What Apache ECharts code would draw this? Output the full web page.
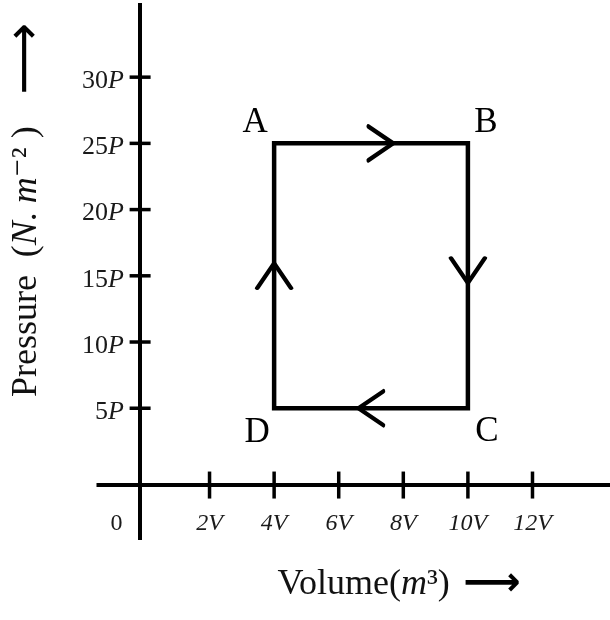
<!DOCTYPE html>
<html>
<head>
<meta charset="utf-8">
<script src="https://cdn.jsdelivr.net/npm/echarts@6/dist/echarts.min.js"></script>
<style>
html,body{margin:0;padding:0;background:#fff;}
#chart{width:610px;height:620px;}
</style>
</head>
<body>
<div id="chart"></div>
<script>
// ---- data ----
const vertexNames = ['A', 'B', 'C', 'D'];
const volume = [4, 10, 10, 4];          // in units of V
const pressure = [25, 25, 5, 5];        // in units of P
const cycleOrder = [0, 1, 2, 3, 0];     // A -> B -> C -> D -> A
const xTickValues = [2, 4, 6, 8, 10, 12];
const yTickValues = [5, 10, 15, 20, 25, 30];
const arrowVolume = [7.3, 10, 7, 4];
const arrowPressure = [25, 15.4, 5, 15];
const arrowAngle = [0, -90, 180, 90];
const xAxisLineAt = -0.8;   // pressure value where the drawn V axis sits
const yAxisLineAt = -0.15;  // volume value where the drawn P axis sits

const labelOffsets = [[-19, -21], [18, -21], [19, 24], [-17, 25]];
const SERIF = '"Liberation Serif", "DejaVu Serif", serif';

const cycleData = cycleOrder.map(i => [volume[i], pressure[i]]);
const vertexData = vertexNames.map((n, i) => ({
  value: [volume[i], pressure[i]],
  name: n,
  label: { offset: labelOffsets[i] }
}));
const arrowData = arrowVolume.map((v, i) => ({
  value: [v, arrowPressure[i]],
  symbolRotate: arrowAngle[i]
}));
const xTickData = xTickValues.map(v => [v, xAxisLineAt]);
const yTickData = yTickValues.map(p => [yAxisLineAt, p]);

const chart = echarts.init(document.getElementById('chart'), null, { renderer: 'canvas' });
chart.setOption({
  animation: false,
  backgroundColor: '#ffffff',
  grid: { left: 96.5, right: 0, top: 3, bottom: 80, containLabel: false, outerBoundsMode: 'none' },
  xAxis: {
    type: 'value', min: -1.5, max: 14.4,
    offset: -65.4,
    axisLine: { show: false, onZero: false },
    axisTick: { show: false },
    splitLine: { show: false },
    axisLabel: {
      customValues: [0].concat(xTickValues),
      margin: 37,
      formatter: v => v === 0 ? '{z|0}' : '{v|' + v + 'V}',
      rich: {
        v: { fontFamily: SERIF, fontStyle: 'italic', fontSize: 24, color: '#1a1a1a' },
        z: { fontFamily: SERIF, fontSize: 24, color: '#1a1a1a', padding: [0, 57, 0, 0] }
      }
    },
    name: '{t|Volume(}{i|m}{t|³)}{a| ⟶}',
    nameLocation: 'middle',
    nameGap: 90,
    nameMoveOverlap: false,
    nameTextStyle: {
      padding: [0, 0, 0, 92],
      rich: {
        t: { fontFamily: SERIF, fontSize: 36, color: '#111' },
        i: { fontFamily: SERIF, fontStyle: 'italic', fontSize: 36, color: '#111' },
        a: { fontFamily: '"DejaVu Sans", sans-serif', fontWeight: 'bold', fontSize: 40, color: '#000' }
      }
    }
  },
  yAxis: {
    type: 'value', min: -4.95, max: 35.6,
    offset: -48.5,
    axisLine: { show: false, onZero: false },
    axisTick: { show: false },
    splitLine: { show: false },
    axisLabel: {
      customValues: yTickValues,
      margin: 21,
      padding: [8, 0, 0, 0],
      formatter: v => '{n|' + v + '}{p|P}',
      rich: {
        n: { fontFamily: SERIF, fontSize: 26, color: '#1a1a1a' },
        p: { fontFamily: SERIF, fontStyle: 'italic', fontSize: 26, color: '#1a1a1a' }
      }
    },
    name: '{t|Pressure  (}{i|N}{t|. }{i|m}{t|⁻² )}{a|  ⟶}',
    nameLocation: 'middle',
    nameRotate: 90,
    nameGap: 93,
    nameMoveOverlap: false,
    nameTextStyle: {
      padding: [0, 0, 0, 123],
      rich: {
        t: { fontFamily: SERIF, fontSize: 36, color: '#111' },
        i: { fontFamily: SERIF, fontStyle: 'italic', fontSize: 36, color: '#111' },
        a: { fontFamily: '"DejaVu Sans", sans-serif', fontSize: 50, color: '#000' }
      }
    }
  },
  series: [
    {
      type: 'scatter', name: 'ticks-x', silent: true,
      symbol: 'rect', symbolSize: [3.5, 27],
      itemStyle: { color: '#000', opacity: 1 },
      data: xTickData,
      markLine: {
        silent: true, symbol: 'none', label: { show: false },
        lineStyle: { color: '#000', width: 4, type: 'solid', opacity: 1 },
        data: [{ yAxis: xAxisLineAt }, { xAxis: yAxisLineAt }]
      },
      z: 3
    },
    {
      type: 'scatter', name: 'ticks-y', silent: true,
      symbol: 'rect', symbolSize: [21, 3.5],
      itemStyle: { color: '#000', opacity: 1 },
      data: yTickData, z: 3
    },
    {
      type: 'line', name: 'cycle', silent: true,
      data: cycleData,
      showSymbol: false, symbol: 'none',
      lineStyle: { color: '#000', width: 4.5, join: 'miter', cap: 'square', opacity: 1 },
      z: 4
    },
    {
      type: 'scatter', name: 'arrows', silent: true,
      symbol: 'path://M0,0L1,1L0,2',
      symbolSize: [25, 34],
      itemStyle: { color: 'transparent', borderColor: '#000', borderWidth: 4, borderJoin: 'miter', borderCap: 'round', opacity: 1 },
      data: arrowData, z: 5
    },
    {
      type: 'scatter', name: 'vertices', silent: true,
      symbolSize: 0,
      itemStyle: { opacity: 1 },
      data: vertexData,
      label: {
        show: true, position: 'inside',
        formatter: p => p.name,
        fontFamily: SERIF, fontSize: 35, color: '#000', opacity: 1
      },
      z: 6
    }
  ]
});
</script>
</body>
</html>
